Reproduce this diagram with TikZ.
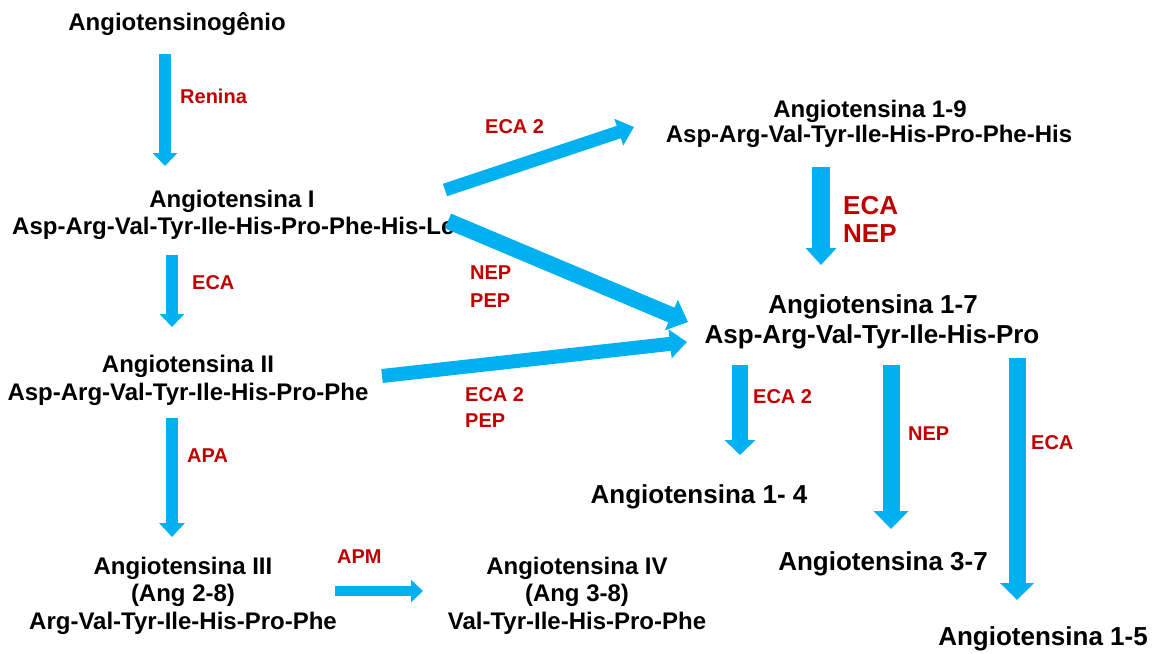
\documentclass[tikz,border=0pt]{standalone}
\usepackage{fontspec}
\setmainfont{Liberation Sans}
\usetikzlibrary{arrows.meta}
\definecolor{ablue}{RGB}{0,176,240}
\definecolor{ered}{RGB}{192,0,0}
\begin{document}
\begin{tikzpicture}[x=1pt,y=-1pt,
 txt/.style={font=\bfseries\fontsize{24}{28}\selectfont, anchor=base, inner sep=0pt},
 bigtxt/.style={font=\bfseries\fontsize{26}{30}\selectfont, anchor=base, inner sep=0pt},
 enz/.style={font=\bfseries\fontsize{20}{24}\selectfont, text=ered, anchor=base west, inner sep=0pt},
 bigenz/.style={font=\bfseries\fontsize{26}{30}\selectfont, text=ered, anchor=base west, inner sep=0pt},
 fat/.style n args={3}{draw=ablue, line width=#1, -{Triangle[width=#2, length=#3]}},
]
\fill[white] (0,0) rectangle (1155,653);
\useasboundingbox (0,0) rectangle (1155,653);

% substances
\node[txt] (agt) at (177,30) {Angiotensinogênio};
\node[txt] (a1t) at (232,207) {Angiotensina I};
\node[txt, anchor=base west] (a1s) at (12,234) {Asp-Arg-Val-Tyr-Ile-His-Pro-Phe-His-Leu};
\node[txt] (a2t) at (188,372) {Angiotensina II};
\node[txt] (a2s) at (188,400) {Asp-Arg-Val-Tyr-Ile-His-Pro-Phe};
\node[txt] (a3t) at (183,574) {Angiotensina III};
\node[txt] (a3n) at (183,601) {(Ang 2-8)};
\node[txt] (a3s) at (183,629) {Arg-Val-Tyr-Ile-His-Pro-Phe};
\node[txt] (a4t) at (577,574) {Angiotensina IV};
\node[txt] (a4n) at (577,601) {(Ang 3-8)};
\node[txt] (a4s) at (577,629) {Val-Tyr-Ile-His-Pro-Phe};
\node[txt] (a19t) at (870,117) {Angiotensina 1-9};
\node[txt] (a19s) at (869,142) {Asp-Arg-Val-Tyr-Ile-His-Pro-Phe-His};
\node[bigtxt] (a17t) at (873,313) {Angiotensina 1-7};
\node[bigtxt] (a17s) at (872,343) {Asp-Arg-Val-Tyr-Ile-His-Pro};
\node[bigtxt] (a14) at (699,503) {Angiotensina 1- 4};
\node[bigtxt] (a37) at (883,570) {Angiotensina 3-7};
\node[bigtxt] (a15) at (1043,645) {Angiotensina 1-5};

% enzymes
\node[enz] (renina) at (180,103) {Renina};
\node[enz] (eca1) at (192,289) {ECA};
\node[enz] (apa) at (187,462) {APA};
\node[enz] (apm) at (337,563) {APM};
\node[enz] (eca2a) at (485,133) {ECA 2};
\node[enz] (nep1) at (470,279) {NEP};
\node[enz] (pep1) at (470,307) {PEP};
\node[enz] (eca2b) at (465,401) {ECA 2};
\node[enz] (pep2) at (465,427) {PEP};
\node[bigenz] (eca3) at (843,214) {ECA};
\node[bigenz] (nep2) at (843,242) {NEP};
\node[enz] (eca2c) at (753,403) {ECA 2};
\node[enz] (nep3) at (908,440) {NEP};
\node[enz] (eca4) at (1031,449) {ECA};

% arrow end points
\coordinate (r0) at (165,54);   \coordinate (r1) at (165,166);
\coordinate (e0) at (172,255);  \coordinate (e1) at (172,327);
\coordinate (p0) at (172,418);  \coordinate (p1) at (172,537);
\coordinate (m0) at (335,591);  \coordinate (m1) at (423,591);
\coordinate (u0) at (445,190);  \coordinate (u1) at (634,127);
\coordinate (d0) at (448,221);  \coordinate (d1) at (688,322);
\coordinate (l0) at (382,376);  \coordinate (l1) at (687,342);
\coordinate (n0) at (821,167);  \coordinate (n1) at (821,265);
\coordinate (s0) at (740,365);  \coordinate (s1) at (740,455);
\coordinate (t0) at (891,365);  \coordinate (t1) at (891,529);
\coordinate (v0) at (1017,358); \coordinate (v1) at (1017,600);

\draw[fat={12pt}{24pt}{13pt}] (r0) -- (r1);
\draw[fat={12pt}{24pt}{13pt}] (e0) -- (e1);
\draw[fat={12pt}{25pt}{14pt}] (p0) -- (p1);
\draw[fat={10pt}{22pt}{12pt}] (m0) -- (m1);
\draw[fat={13pt}{27pt}{16pt}] (u0) -- (u1);
\draw[fat={16pt}{32pt}{18pt}] (d0) -- (d1);
\draw[fat={14pt}{28pt}{17pt}] (l0) -- (l1);
\draw[fat={18pt}{30pt}{17pt}] (n0) -- (n1);
\draw[fat={16pt}{30pt}{15pt}] (s0) -- (s1);
\draw[fat={17pt}{34pt}{18pt}] (t0) -- (t1);
\draw[fat={17pt}{33pt}{17pt}] (v0) -- (v1);
\end{tikzpicture}
\end{document}
